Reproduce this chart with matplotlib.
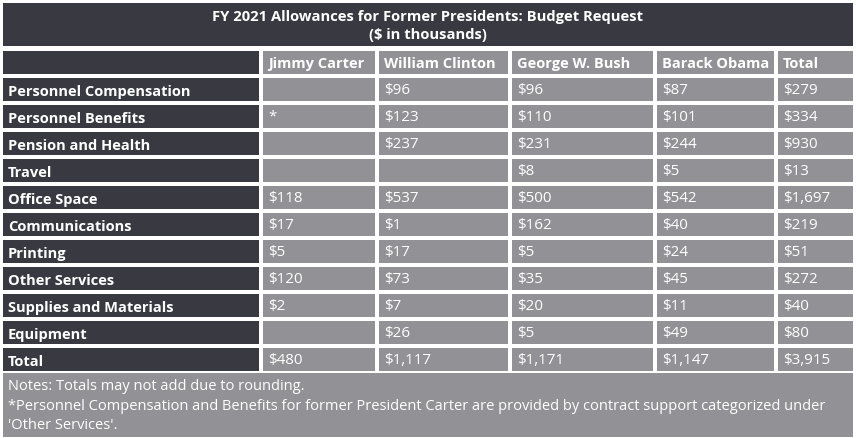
import matplotlib
matplotlib.use("Agg")
import matplotlib.pyplot as plt
from matplotlib.patches import Rectangle

title_lines = ["FY 2021 Allowances for Former Presidents: Budget Request", "($ in thousands)"]
columns = ["Jimmy Carter", "William Clinton", "George W. Bush", "Barack Obama", "Total"]
categories = ["Personnel Compensation", "Personnel Benefits", "Pension and Health", "Travel",
              "Office Space", "Communications", "Printing", "Other Services",
              "Supplies and Materials", "Equipment", "Total"]
carter = [None, "*", None, None, 118, 17, 5, 120, 2, None, 480]
clinton = [96, 123, 237, None, 537, 1, 17, 73, 7, 26, 1117]
bush = [96, 110, 231, 8, 500, 162, 5, 35, 20, 5, 1171]
obama = [87, 101, 244, 5, 542, 40, 24, 45, 11, 49, 1147]
total = [279, 334, 930, 13, 1697, 219, 51, 272, 40, 80, 3915]
notes = ["Notes: Totals may not add due to rounding.",
         "*Personnel Compensation and Benefits for former President Carter are provided by contract support categorized under",
         "'Other Services'."]

series = [carter, clinton, bush, obama, total]

DARK = "#393a41"
GREY = "#929296"
FONT = ["Open Sans", "DejaVu Sans"]

W, H = 856, 438
fig = plt.figure(figsize=(W / 100, H / 100), dpi=100)
ax = fig.add_axes([0, 0, 1, 1])
ax.set_xlim(0, W)
ax.set_ylim(H, 0)
ax.axis("off")
fig.patch.set_facecolor("white")

# column edges
col_x = [3, 263, 379, 512, 657, 778]
col_r = [259, 375, 508, 653, 774, 853]

def fmt(v):
    if v is None:
        return ""
    if isinstance(v, str):
        return v
    return "${:,}".format(v)

# title banner
ax.add_patch(Rectangle((3, 3), 850, 43, facecolor=DARK, edgecolor="none"))
ax.text(428, 17, title_lines[0], ha="center", va="center", color="white",
        fontsize=10.6, fontweight="bold", family=FONT)
ax.text(428, 35, title_lines[1], ha="center", va="center", color="white",
        fontsize=10.6, fontweight="bold", family=FONT)

# header row
hy, hh = 51, 23
for j in range(6):
    fc = DARK if j == 0 else GREY
    ax.add_patch(Rectangle((col_x[j], hy), col_r[j] - col_x[j], hh, facecolor=fc, edgecolor="none"))
    if j > 0:
        ax.text(col_x[j] + 5, hy + hh / 2 + 1.5, columns[j - 1], ha="left", va="center",
                color="white", fontsize=10.5, fontweight="bold", family=FONT)

# body rows
for i, cat in enumerate(categories):
    y = 78 + 27 * i
    h = 23
    ax.add_patch(Rectangle((col_x[0], y), col_r[0] - col_x[0], h, facecolor=DARK, edgecolor="none"))
    ax.text(col_x[0] + 5, y + h / 2 + 2.5, cat, ha="left", va="center", color="white",
            fontsize=10.5, fontweight="bold", family=FONT)
    for j, s in enumerate(series):
        ax.add_patch(Rectangle((col_x[j + 1], y), col_r[j + 1] - col_x[j + 1], h,
                               facecolor=GREY, edgecolor="none"))
        txt = fmt(s[i])
        if txt:
            ax.text(col_x[j + 1] + 5, y + h / 2 + (0 if txt == "*" else 1), txt, ha="left",
                    va="center", color="white", fontsize=10.9, family=FONT)

# notes box
ax.add_patch(Rectangle((3, 373), 850, 64, facecolor=GREY, edgecolor="none"))
for k, line in enumerate(notes):
    ax.text(8, 386.5 + 19.5 * k, line, ha="left", va="center", color="white",
            fontsize=10.55, family=FONT)

fig.savefig("out.png", dpi=100, facecolor="white")
